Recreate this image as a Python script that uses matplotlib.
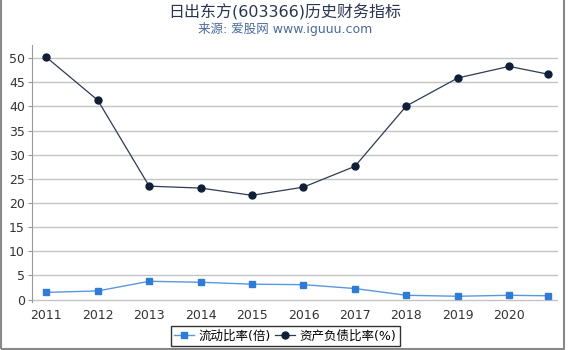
import matplotlib.pyplot as plt
from matplotlib.patches import Rectangle

plt.rcParams['font.family'] = ['DejaVu Sans', 'Noto Sans CJK SC']

# data
years = [2011, 2012, 2013, 2014, 2015, 2016, 2017, 2018, 2019, 2020, 2020.75]
tick_years = [2011, 2012, 2013, 2014, 2015, 2016, 2017, 2018, 2019, 2020]
current_ratio = [1.5, 1.8, 3.8, 3.6, 3.2, 3.1, 2.3, 0.9, 0.7, 0.9, 0.8]
debt_ratio = [50.2, 41.3, 23.5, 23.1, 21.6, 23.3, 27.6, 40.1, 45.9, 48.3, 46.7]

fig = plt.figure(figsize=(5.7, 3.5), dpi=100)
ax = fig.add_axes([0.056, 0.137, 0.923, 0.734])

ax.plot(years, current_ratio, color='#5a97e0', lw=1.0, marker='s', ms=4.5,
        mfc='#2f7bd6', mec='#2f7bd6', label='流动比率(倍)', zorder=3)
ax.plot(years, debt_ratio, color='#2e3b52', lw=0.9, marker='o', ms=5,
        mfc='#0f1f38', mec='#0f1f38', label='资产负债比率(%)', zorder=3)

ax.set_xlim(2010.72, 2020.95)
ax.set_ylim(-0.5, 52.7)
ax.set_yticks(range(0, 51, 5))
ax.set_xticks(tick_years)
ax.grid(axis='y', color='#c4c4c4', lw=1.0)
ax.set_axisbelow(True)
for s in ['top', 'right', 'bottom']:
    ax.spines[s].set_visible(False)
ax.spines['left'].set_color('#999999')
ax.tick_params(axis='y', length=3, color='#999999', labelsize=9, labelcolor='#333333', pad=2)
ax.tick_params(axis='x', length=0, labelsize=9, labelcolor='#333333', pad=5)

fig.text(0.5, 0.965, '日出东方(603366)历史财务指标', ha='center', va='center',
         fontsize=11.5, color='#2a3550')
fig.text(0.5, 0.918, '来源: 爱股网 www.iguuu.com', ha='center', va='center',
         fontsize=9, color='#4a6a9a')

leg = fig.legend(loc='center', bbox_to_anchor=(0.5, 0.04), ncol=2, fontsize=9,
                 frameon=True, fancybox=False, edgecolor='black', handlelength=1.6,
                 handletextpad=0.3, columnspacing=0.4, borderpad=0.3)
leg.get_frame().set_linewidth(1.0)

fig.patches.append(Rectangle((0.002, 0.003), 0.988, 1.2, transform=fig.transFigure,
                             fill=False, edgecolor='#888888', lw=1.5))

fig.savefig('out.png', dpi=100)
